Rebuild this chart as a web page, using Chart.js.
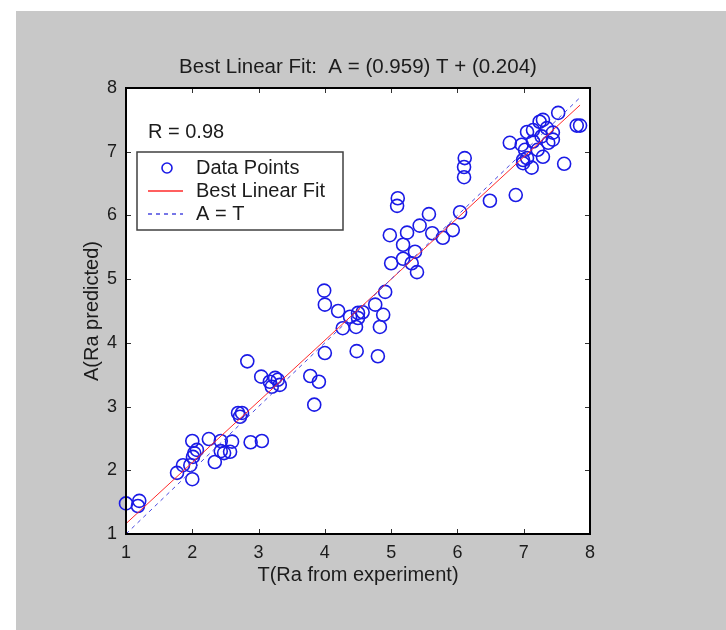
<!DOCTYPE html>
<html lang="en">
<head>
<meta charset="UTF-8">
<title>Best Linear Fit</title>
<script src="https://cdn.jsdelivr.net/npm/chart.js@4.4.0/dist/chart.umd.min.js"></script>
<style>
    html, body { margin: 0; padding: 0; background: #ffffff; }
    .panel {
        position: absolute;
        left: 16px;
        top: 11px;
        width: 710px;
        height: 619px;
        background: #c8c8c8;
    }
    canvas { display: block; }
</style>
</head>
<body>
<div class="panel">
    <canvas id="fitChart" width="710" height="619"></canvas>
</div>

<script>
// measured roughness (T) vs network prediction (A)
const tValues = [
    1.00, 1.20, 1.18, 1.77, 1.86, 2.00, 2.00, 2.03, 2.01, 1.97,
    2.07, 2.25, 2.34, 2.43, 2.43, 2.60, 2.57, 2.48, 2.69, 2.75,
    2.72, 2.88, 3.05, 3.84, 2.83, 3.04, 3.17, 3.25, 3.32, 3.20,
    3.29, 3.78, 3.91, 4.00, 3.99, 4.00, 4.20, 4.27, 4.38, 4.47,
    4.48, 4.50, 4.98, 5.24, 5.18, 5.36, 5.00, 5.18, 5.31, 5.39,
    4.91, 4.76, 4.88, 4.83, 4.57, 4.80, 5.10, 5.09, 6.11, 6.10,
    6.10, 6.49, 6.88, 6.04, 5.57, 5.43, 5.78, 5.93, 5.62, 6.79,
    6.97, 7.02, 7.05, 7.14, 7.24, 7.29, 7.35, 7.44, 7.52, 7.80,
    7.85, 7.61, 7.05, 7.12, 6.99, 7.29, 7.21, 7.37, 7.44, 7.14,
    7.27, 6.99, 4.50
];
const aValues = [
    1.48, 1.52, 1.44, 1.96, 2.08, 2.46, 1.86, 2.27, 2.21, 2.08,
    2.32, 2.49, 2.13, 2.46, 2.30, 2.45, 2.29, 2.27, 2.90, 2.90,
    2.84, 2.44, 2.46, 3.03, 3.71, 3.47, 3.39, 3.45, 3.34, 3.31,
    3.42, 3.48, 3.39, 3.84, 4.82, 4.60, 4.50, 4.23, 4.41, 4.25,
    3.87, 4.47, 5.69, 5.73, 5.54, 5.43, 5.25, 5.32, 5.25, 5.11,
    4.80, 4.60, 4.44, 4.25, 4.48, 3.79, 6.27, 6.15, 6.90, 6.76,
    6.60, 6.23, 6.32, 6.05, 6.02, 5.84, 5.65, 5.77, 5.72, 7.14,
    7.11, 7.03, 7.31, 7.34, 7.47, 7.50, 7.37, 7.30, 7.61, 7.41,
    7.41, 6.81, 6.90, 6.75, 6.82, 6.92, 7.03, 7.14, 7.19, 7.16,
    7.24, 6.87, 4.39
];

const fitSlope = 0.959;
const fitIntercept = 0.204;
const rValue = 0.98;
const lineRange = [1.0, 7.85];
const tickValues = [1, 2, 3, 4, 5, 6, 7, 8];

const FONT = "'Liberation Sans', Arial, Helvetica, sans-serif";
const TEXT = '#1c1c1c';

const points = tValues.map((t, i) => ({ x: t, y: aValues[i] }));
const fitLine = lineRange.map(t => ({ x: t, y: fitSlope * t + fitIntercept }));
const identityLine = lineRange.map(t => ({ x: t, y: t }));

const titleText = 'Best Linear Fit:  A = (' + fitSlope.toFixed(3) + ') T + (' + fitIntercept.toFixed(3) + ')';

// white plot area, inward ticks, box, title, R value and legend
const framePlugin = {
    id: 'framePlugin',
    beforeDraw(chart) {
        const { ctx, chartArea: a } = chart;
        ctx.save();
        ctx.fillStyle = '#ffffff';
        ctx.fillRect(a.left, a.top, a.right - a.left, a.bottom - a.top);
        ctx.restore();
    },
    afterDatasetsDraw(chart) {
        const { ctx, chartArea: a, scales: { x, y } } = chart;
        ctx.save();

        ctx.strokeStyle = '#333333';
        ctx.lineWidth = 1;
        ctx.beginPath();
        tickValues.forEach(v => {
            const px = Math.round(x.getPixelForValue(v)) + 0.5;
            ctx.moveTo(px, a.bottom); ctx.lineTo(px, a.bottom - 5);
            ctx.moveTo(px, a.top); ctx.lineTo(px, a.top + 5);
            const py = Math.round(y.getPixelForValue(v)) + 0.5;
            ctx.moveTo(a.left, py); ctx.lineTo(a.left + 5, py);
            ctx.moveTo(a.right, py); ctx.lineTo(a.right - 5, py);
        });
        ctx.stroke();

        ctx.strokeStyle = '#000000';
        ctx.lineWidth = 2;
        ctx.strokeRect(a.left, a.top, a.right - a.left, a.bottom - a.top);

        ctx.fillStyle = TEXT;
        ctx.textBaseline = 'middle';
        ctx.textAlign = 'center';
        ctx.font = '20.5px ' + FONT;
        ctx.fillText(titleText, (a.left + a.right) / 2, a.top - 21);

        ctx.font = '20px ' + FONT;
        ctx.textAlign = 'left';
        ctx.fillText('R = ' + rValue.toFixed(2), a.left + 22, a.top + 44);

        // legend box
        const lx = a.left + 11, ly = a.top + 64, lw = 206, lh = 78;
        ctx.fillStyle = '#ffffff';
        ctx.fillRect(lx, ly, lw, lh);
        ctx.strokeStyle = '#404040';
        ctx.lineWidth = 1.5;
        ctx.strokeRect(lx, ly, lw, lh);

        const ds = chart.data.datasets;
        const rows = [16, 39, 62];
        ds.forEach((d, i) => {
            const ry = ly + rows[i];
            if (d.showLine === false) {
                ctx.beginPath();
                ctx.strokeStyle = d.borderColor;
                ctx.lineWidth = d.borderWidth;
                ctx.arc(lx + 30, ry, d.pointRadius - 1.5, 0, Math.PI * 2);
                ctx.stroke();
            } else {
                ctx.beginPath();
                ctx.strokeStyle = d.borderColor;
                ctx.lineWidth = 1.5;
                ctx.setLineDash(d.borderDash || []);
                ctx.moveTo(lx + 11, ry);
                ctx.lineTo(lx + 46, ry);
                ctx.stroke();
                ctx.setLineDash([]);
            }
            ctx.fillStyle = TEXT;
            ctx.fillText(d.label, lx + 59, ry);
        });

        ctx.restore();
    }
};

const axisBase = {
    type: 'linear',
    min: 1,
    max: 8,
    grid: { display: false, drawTicks: false },
    border: { display: false },
    ticks: {
        stepSize: 1,
        color: TEXT,
        font: { size: 18, family: FONT }
    }
};

new Chart(document.getElementById('fitChart'), {
    type: 'scatter',
    data: {
        datasets: [
            {
                label: 'Data Points',
                data: points,
                showLine: false,
                clip: false,
                pointStyle: 'circle',
                pointRadius: 6.5,
                pointHoverRadius: 6.5,
                borderWidth: 1.6,
                borderColor: '#1a1ae6',
                backgroundColor: 'rgba(0,0,0,0)',
                order: 2
            },
            {
                label: 'Best Linear Fit',
                data: fitLine,
                showLine: true,
                pointRadius: 0,
                borderWidth: 1,
                borderColor: '#ff2a2a',
                order: 1
            },
            {
                label: 'A = T',
                data: identityLine,
                showLine: true,
                pointRadius: 0,
                borderWidth: 1,
                borderDash: [4, 4],
                borderColor: '#4a4ae0',
                order: 0
            }
        ]
    },
    options: {
        responsive: false,
        animation: false,
        devicePixelRatio: 1,
        layout: { padding: { top: 77, right: 136, bottom: 0, left: 0 } },
        plugins: {
            legend: { display: false },
            tooltip: { enabled: false },
            title: { display: false }
        },
        scales: {
            x: {
                ...axisBase,
                ticks: { ...axisBase.ticks, padding: 8 },
                title: {
                    display: true,
                    text: 'T(Ra from experiment)',
                    color: TEXT,
                    font: { size: 20, family: FONT, lineHeight: 1.2 },
                    padding: { top: 43, bottom: 43 }
                },
                afterFit(scale) { scale.height = 96; }
            },
            y: {
                ...axisBase,
                ticks: { ...axisBase.ticks, padding: 9 },
                title: {
                    display: true,
                    text: 'A(Ra predicted)',
                    color: TEXT,
                    font: { size: 20, family: FONT, lineHeight: 1.2 },
                    padding: { top: 64, bottom: 64 }
                },
                afterFit(scale) { scale.width = 110; }
            }
        }
    },
    plugins: [framePlugin]
});
</script>
</body>
</html>
